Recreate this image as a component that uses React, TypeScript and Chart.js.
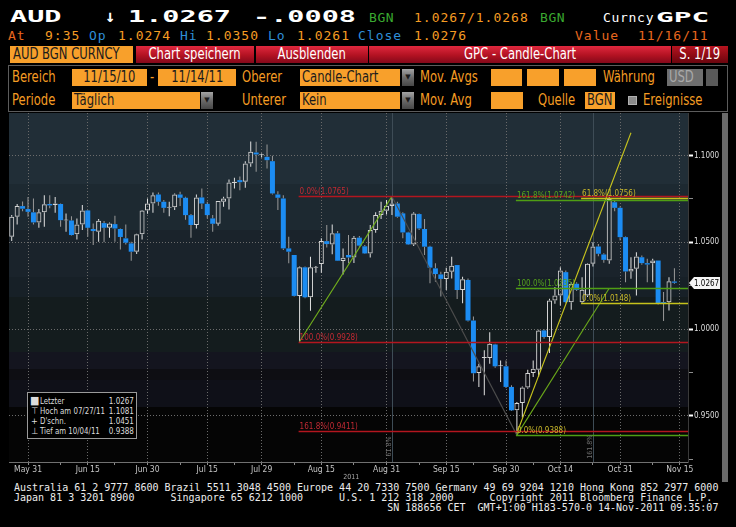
import React, { useEffect, useRef } from 'react';
import { Chart, registerables } from 'chart.js';

Chart.register(...registerables);

const MONO = "'DejaVu Sans Mono', monospace";
const NARROW = "'Liberation Sans Narrow', 'DejaVu Sans Condensed', 'Arial Narrow', 'Liberation Sans', sans-serif";

// ---------------- data ----------------
const START_DATE = '2011-05-26';
const CATEGORY_COUNT = 125; // trading days shown on the axis (last two are empty)

const opens = [
  1.0532, 1.0648, 1.0709, 1.0692, 1.0673, 1.0615, 1.0673, 1.0721, 1.0715, 1.0721,
  1.0626, 1.0626, 1.0546, 1.0603, 1.0684, 1.0577, 1.0561, 1.0611, 1.0584, 1.0605,
  1.0577, 1.0523, 1.0494, 1.0446, 1.0546, 1.0684, 1.0724, 1.0776, 1.0734, 1.0700,
  1.0702, 1.0776, 1.0757, 1.0657, 1.0600, 1.0759, 1.0722, 1.0638, 1.0607, 1.0734,
  1.0753, 1.0842, 1.0859, 1.0849, 1.0955, 1.1018, 1.1003, 1.0993, 1.0968, 1.0776,
  1.0753, 1.0465, 1.0427, 1.0191, 1.0356, 1.0183, 1.0354, 1.0375, 1.0507, 1.0488,
  1.0552, 1.0392, 1.0427, 1.0413, 1.0527, 1.0477, 1.0436, 1.0571, 1.0657, 1.0682,
  1.0709, 1.0724, 1.0667, 1.0557, 1.0488, 1.0663, 1.0577, 1.0475, 1.0350, 1.0315,
  1.0289, 1.0331, 1.0369, 1.0225, 1.0283, 1.0049, 0.9746, 0.9833, 0.9833, 0.9911,
  0.9785, 0.9785, 0.9666, 0.9531, 0.9573, 0.9662, 0.9746, 0.9765, 0.9992, 0.9954,
  1.0165, 1.0194, 1.0328, 1.0155, 1.0261, 1.0155, 1.0194, 1.0376, 1.0476, 1.0430,
  1.0395, 1.0731, 1.0699, 1.0530, 1.0332, 1.0347, 1.0414, 1.0380, 1.0380, 1.0395,
  1.0155, 1.0155, 1.0274,
];
const highs = [
  1.0657, 1.0721, 1.0736, 1.0761, 1.0753, 1.0692, 1.0772, 1.0772, 1.0761, 1.0724,
  1.0667, 1.0651, 1.0638, 1.0715, 1.0686, 1.0609, 1.0634, 1.0623, 1.0615, 1.0653,
  1.0580, 1.0603, 1.0504, 1.0550, 1.0686, 1.0753, 1.0788, 1.0788, 1.0744, 1.0734,
  1.0782, 1.0792, 1.0763, 1.0663, 1.0776, 1.0811, 1.0734, 1.0657, 1.0738, 1.0763,
  1.0863, 1.0872, 1.0880, 1.0968, 1.1081, 1.1080, 1.1012, 1.1064, 1.0999, 1.0795,
  1.0772, 1.0532, 1.0427, 1.0360, 1.0360, 1.0417, 1.0363, 1.0523, 1.0600, 1.0603,
  1.0565, 1.0465, 1.0542, 1.0536, 1.0536, 1.0484, 1.0600, 1.0673, 1.0734, 1.0744,
  1.0765, 1.0734, 1.0673, 1.0561, 1.0673, 1.0667, 1.0634, 1.0481, 1.0379, 1.0331,
  1.0354, 1.0417, 1.0369, 1.0302, 1.0292, 1.0072, 0.9800, 0.9877, 0.9982, 0.9915,
  0.9819, 0.9819, 0.9675, 0.9579, 0.9669, 0.9765, 0.9819, 0.9996, 0.9998, 1.0174,
  1.0242, 1.0357, 1.0338, 1.0270, 1.0270, 1.0299, 1.0380, 1.0501, 1.0491, 1.0437,
  1.0770, 1.0741, 1.0706, 1.0533, 1.0414, 1.0443, 1.0424, 1.0405, 1.0405, 1.0395,
  1.0213, 1.0299, 1.0350,
];
const lows = [
  1.0507, 1.0603, 1.0680, 1.0648, 1.0603, 1.0584, 1.0590, 1.0696, 1.0671, 1.0590,
  1.0561, 1.0540, 1.0517, 1.0571, 1.0532, 1.0484, 1.0504, 1.0500, 1.0527, 1.0504,
  1.0459, 1.0488, 1.0394, 1.0433, 1.0517, 1.0665, 1.0671, 1.0711, 1.0671, 1.0650,
  1.0686, 1.0709, 1.0630, 1.0527, 1.0580, 1.0692, 1.0638, 1.0561, 1.0596, 1.0705,
  1.0690, 1.0811, 1.0801, 1.0815, 1.0936, 1.0907, 1.0990, 1.0926, 1.0776, 1.0686,
  1.0456, 1.0379, 1.0187, 0.9928, 1.0177, 1.0106, 1.0325, 1.0325, 1.0470, 1.0431,
  1.0392, 1.0315, 1.0379, 1.0381, 1.0475, 1.0433, 1.0413, 1.0555, 1.0634, 1.0661,
  1.0657, 1.0642, 1.0523, 1.0484, 1.0479, 1.0571, 1.0427, 1.0264, 1.0273, 1.0187,
  1.0225, 1.0292, 1.0173, 1.0148, 1.0043, 0.9697, 0.9666, 0.9618, 0.9800, 0.9777,
  0.9694, 0.9660, 0.9527, 0.9388, 0.9489, 0.9656, 0.9723, 0.9723, 0.9944, 0.9861,
  1.0146, 1.0136, 1.0149, 1.0111, 1.0220, 1.0146, 1.0184, 1.0361, 1.0420, 1.0382,
  1.0376, 1.0680, 1.0510, 1.0270, 1.0290, 1.0194, 1.0370, 1.0270, 1.0270, 1.0142,
  1.0046, 1.0107, 1.0261,
];
const closes = [
  1.0648, 1.0709, 1.0694, 1.0676, 1.0615, 1.0673, 1.0719, 1.0713, 1.0724, 1.0628,
  1.0628, 1.0542, 1.0603, 1.0684, 1.0584, 1.0565, 1.0625, 1.0584, 1.0609, 1.0580,
  1.0531, 1.0498, 1.0446, 1.0546, 1.0684, 1.0724, 1.0772, 1.0734, 1.0699, 1.0702,
  1.0776, 1.0757, 1.0657, 1.0600, 1.0759, 1.0724, 1.0657, 1.0607, 1.0738, 1.0753,
  1.0845, 1.0849, 1.0847, 1.0955, 1.1022, 1.1007, 1.1005, 1.0974, 1.0782, 1.0757,
  1.0465, 1.0446, 1.0191, 1.0356, 1.0183, 1.0356, 1.0357, 1.0507, 1.0490, 1.0552,
  1.0394, 1.0411, 1.0413, 1.0527, 1.0481, 1.0436, 1.0571, 1.0657, 1.0682, 1.0711,
  1.0724, 1.0648, 1.0557, 1.0488, 1.0667, 1.0580, 1.0475, 1.0354, 1.0317, 1.0289,
  1.0331, 1.0365, 1.0225, 1.0287, 1.0049, 0.9745, 0.9785, 0.9835, 0.9915, 0.9785,
  0.9787, 0.9666, 0.9531, 0.9573, 0.9662, 0.9746, 0.9771, 0.9992, 0.9954, 1.0165,
  1.0194, 1.0338, 1.0155, 1.0261, 1.0226, 1.0226, 1.0376, 1.0476, 1.0434, 1.0399,
  1.0750, 1.0699, 1.0530, 1.0332, 1.0347, 1.0418, 1.0380, 1.0372, 1.0395, 1.0146,
  1.0146, 1.0276, 1.0267,
];

const tickDates = ['2011-05-31', '2011-06-15', '2011-06-30', '2011-07-15', '2011-07-29', '2011-08-15',
  '2011-08-31', '2011-09-15', '2011-09-30', '2011-10-14', '2011-10-31', '2011-11-15'];
const tickTexts = ['May 31', 'Jun 15', 'Jun 30', 'Jul 15', 'Jul 29', 'Aug 15',
  'Aug 31', 'Sep 15', 'Sep 30', 'Oct 14', 'Oct 31', 'Nov 15'];
const minorTickDates = ['2011-06-08', '2011-06-22', '2011-07-08', '2011-07-22', '2011-08-08', '2011-08-23',
  '2011-09-08', '2011-09-22', '2011-10-07', '2011-10-24', '2011-11-08'];

const Y_MIN = 0.9233;
const Y_MAX = 1.1246;
const yTickValues = [0.925, 0.95, 0.975, 1.0, 1.025, 1.05, 1.075, 1.1];
const yMajorValues = [0.95, 1.0, 1.05, 1.1];

const RED = '#b3161f', RED_T = '#c22a33', GREEN = '#4f9e14', GREEN_T = '#55a21c', YEL = '#c6c21c', YEL_T = '#c9b82a';

const fibLevels = [
  { from: '2011-08-09', price: 1.0765, label: '0.0%(1.0765)', color: RED, text: RED_T },
  { from: '2011-08-09', price: 0.9928, label: '100.0%(0.9928)', color: RED, text: RED_T },
  { from: '2011-08-09', price: 0.9411, label: '161.8%(0.9411)', color: RED, text: RED_T },
  { from: '2011-10-04', price: 1.0742, label: '161.8%(1.0742)', color: GREEN, text: GREEN_T },
  { from: '2011-10-04', price: 1.0235, label: '100.0%(1.0235)', color: GREEN, text: GREEN_T },
  { from: '2011-10-04', price: 0.9388, label: '0.0%(0.9388)', color: GREEN, text: YEL_T },
  { from: '2011-10-20', price: 1.0756, label: '61.8%(1.0756)', color: YEL, text: YEL_T },
  { from: '2011-10-20', price: 1.0148, label: '0.0%(1.0148)', color: YEL, text: YEL_T },
];

const trendLines = [
  { d1: '2011-08-09', p1: 0.9928, d2: '2011-09-01', p2: 1.0765, color: '#72b01c' },
  { d1: '2011-09-01', p1: 1.0765, d2: '2011-10-04', p2: 0.9388, color: '#4c4c4c' },
  { d1: '2011-10-04', p1: 0.9388, d2: '2011-10-27', p2: 1.0235, color: '#6aa81a' },
  { d1: '2011-10-04', p1: 0.9400, d2: '2011-11-02', p2: 1.1132, color: '#c8c41e' },
];

const verticalLines = ['2011-09-01', '2011-10-24'];
const rotatedLabels = [
  { date: '2011-08-31', text: '61.8%', price: 0.9380 },
  { date: '2011-10-21', text: '161.8%', price: 0.9390 },
];

const legendRows = [
  { icon: '■', label: 'Letzter', value: '1.0267' },
  { icon: '⊤', label: 'Hoch am 07/27/11', value: '1.1081' },
  { icon: '+', label: "D'schn.", value: '1.0451' },
  { icon: '⊥', label: 'Tief am 10/04/11', value: '0.9388' },
];

// background bands (fraction of the plot height, colour)
const BANDS: [number, string][] = [
  [0, '#212e37'], [0.2034, '#1d2931'], [0.3352, '#1a232b'], [0.4699, '#172027'],
  [0.5272, '#141c1e'], [0.6848, '#14151f'], [0.7335, '#0e0e13'], [0.765, '#0f1018'], [0.8424, '#050505'],
];

function weekdays(start: string, n: number): string[] {
  const out: string[] = [];
  const d = new Date(start + 'T12:00:00Z');
  while (out.length < n) {
    const wd = d.getUTCDay();
    if (wd !== 0 && wd !== 6) out.push(d.toISOString().slice(0, 10));
    d.setUTCDate(d.getUTCDate() + 1);
  }
  return out;
}

const BLUE = '#1c8cf2';

function CandleChart() {
  const ref = useRef<HTMLCanvasElement>(null);
  useEffect(() => {
    const canvas = ref.current!;
    const labels = weekdays(START_DATE, CATEGORY_COUNT);
    const idx = (d: string) => labels.indexOf(d);
    const up = closes.map((c, i) => c >= opens[i]);
    const tickIdx = new Map<number, string>(tickDates.map((d, i) => [idx(d), tickTexts[i]] as [number, string]));
    const minorIdx = new Set(minorTickDates.map(idx));
    const isMajor = (v: any) => typeof v === 'number' && yMajorValues.some((m) => Math.abs(m - v) < 1e-6);

    const overlay = {
      id: 'gpcOverlay',
      beforeDraw(chart: any) {
        const { ctx, chartArea: a } = chart;
        const h = a.bottom - a.top;
        ctx.save();
        for (let i = 0; i < BANDS.length; i++) {
          const y0 = Math.round(a.top + BANDS[i][0] * h);
          const y1 = i + 1 < BANDS.length ? Math.round(a.top + BANDS[i + 1][0] * h) : a.bottom;
          ctx.fillStyle = BANDS[i][1];
          ctx.fillRect(a.left, y0, a.right - a.left, y1 - y0);
        }
        ctx.restore();
      },
      beforeDatasetsDraw(chart: any) {
        const { ctx, chartArea: a, scales } = chart;
        ctx.save();
        ctx.strokeStyle = '#3e4c56';
        ctx.lineWidth = 1;
        verticalLines.forEach((d) => {
          const x = Math.round(scales.x.getPixelForValue(idx(d))) + 0.5;
          ctx.beginPath();
          ctx.moveTo(x, a.top);
          ctx.lineTo(x, a.bottom);
          ctx.stroke();
        });
        ctx.restore();
      },
      afterDatasetsDraw(chart: any) {
        const { ctx, chartArea: a, scales } = chart;
        const X = (d: string) => scales.x.getPixelForValue(idx(d));
        const Y = (p: number) => scales.y.getPixelForValue(p);
        ctx.save();
        ctx.beginPath();
        ctx.rect(a.left, a.top, a.right - a.left, a.bottom - a.top);
        ctx.clip();
        trendLines.forEach((t) => {
          ctx.strokeStyle = t.color;
          ctx.lineWidth = 1.1;
          ctx.beginPath();
          ctx.moveTo(X(t.d1), Y(t.p1));
          ctx.lineTo(X(t.d2), Y(t.p2));
          ctx.stroke();
        });
        fibLevels.forEach((f) => {
          const y = Math.round(Y(f.price)) + 0.5;
          ctx.strokeStyle = f.color;
          ctx.lineWidth = 1.6;
          ctx.beginPath();
          ctx.moveTo(X(f.from) - 1, y);
          ctx.lineTo(a.right, y);
          ctx.stroke();
        });
        ctx.font = `8px ${NARROW}`;
        ctx.textBaseline = 'bottom';
        ctx.textAlign = 'left';
        fibLevels.forEach((f) => {
          ctx.fillStyle = f.text;
          ctx.fillText(f.label, X(f.from), Math.round(Y(f.price)) - 0.5);
        });
        ctx.fillStyle = '#6e6e6e';
        ctx.font = `7px ${NARROW}`;
        rotatedLabels.forEach((r) => {
          ctx.save();
          ctx.translate(X(r.date) + 3, Y(r.price));
          ctx.rotate(-Math.PI / 2);
          ctx.textAlign = 'right';
          ctx.textBaseline = 'middle';
          ctx.fillText(r.text, 0, 0);
          ctx.restore();
        });
        ctx.restore();
      },
      afterDraw(chart: any) {
        const { ctx, chartArea: a, scales } = chart;
        const last = closes[closes.length - 1];
        const y = Math.round(scales.y.getPixelForValue(last));
        ctx.save();
        ctx.fillStyle = '#f4f4f4';
        ctx.beginPath();
        ctx.moveTo(a.right + 1, y);
        ctx.lineTo(a.right + 6, y - 6);
        ctx.lineTo(a.right + 32, y - 6);
        ctx.lineTo(a.right + 32, y + 6);
        ctx.lineTo(a.right + 6, y + 6);
        ctx.closePath();
        ctx.fill();
        ctx.fillStyle = '#000';
        ctx.font = `8px ${NARROW}`;
        ctx.textBaseline = 'middle';
        ctx.textAlign = 'left';
        ctx.fillText(last.toFixed(4), a.right + 6, y + 0.5);
        ctx.fillStyle = '#a8a8a8';
        ctx.font = `7px ${NARROW}`;
        ctx.textAlign = 'center';
        ctx.fillText('2011', scales.x.getPixelForValue(62.5), a.bottom + 15);
        ctx.restore();
      },
    };

    const chart = new Chart(canvas, {
      type: 'bar',
      data: {
        labels,
        datasets: [
          {
            label: 'body',
            data: opens.map((o, i) => [Math.min(o, closes[i]), Math.max(o, closes[i])]),
            backgroundColor: up.map((u) => (u ? 'rgba(0,0,0,0)' : BLUE)),
            borderColor: up.map((u) => (u ? '#d4d4d4' : BLUE)),
            borderWidth: up.map((u) => (u ? 1 : 0)),
            borderSkipped: false,
            barThickness: 5,
            minBarLength: 1,
            inflateAmount: 0,
            grouped: false,
            order: 0,
          } as any,
          {
            label: 'upper wick',
            data: opens.map((o, i) => [Math.max(o, closes[i]), highs[i]]),
            backgroundColor: up.map((u) => (u ? '#e2e2e2' : '#9a9a9a')),
            borderWidth: 0,
            barThickness: 1,
            inflateAmount: 0,
            grouped: false,
            order: 1,
          } as any,
          {
            label: 'lower wick',
            data: opens.map((o, i) => [lows[i], Math.min(o, closes[i])]),
            backgroundColor: up.map((u) => (u ? '#e2e2e2' : '#9a9a9a')),
            borderWidth: 0,
            barThickness: 1,
            inflateAmount: 0,
            grouped: false,
            order: 2,
          } as any,
        ],
      },
      options: {
        responsive: false,
        maintainAspectRatio: false,
        animation: false,
        devicePixelRatio: 1,
        layout: { padding: { left: 9, right: 0, top: 0, bottom: 0 } },
        plugins: { legend: { display: false }, tooltip: { enabled: false } },
        scales: {
          x: {
            type: 'category',
            offset: true,
            grid: {
              offset: false,
              color: (c: any) => (tickIdx.has(c.index) ? '#6a6a6a' : 'rgba(0,0,0,0)'),
              lineWidth: 1,
              drawTicks: true,
              tickLength: 3,
              tickColor: (c: any) => (tickIdx.has(c.index) || minorIdx.has(c.index) ? '#8a8a8a' : 'rgba(0,0,0,0)'),
            },
            border: { color: '#707070', width: 1, dash: [1, 2] },
            ticks: {
              autoSkip: false,
              maxRotation: 0,
              minRotation: 0,
              padding: 0,
              color: '#c4c4c4',
              font: { family: NARROW, size: 8.5 },
              callback: (_v: any, i: number) => tickIdx.get(i) ?? '',
            },
            afterFit: (s: any) => {
              s.height = 20;
              s.paddingLeft = 0;
              s.paddingRight = 0;
            },
          },
          y: {
            position: 'right',
            min: Y_MIN,
            max: Y_MAX,
            afterBuildTicks: (s: any) => {
              s.ticks = yTickValues.map((v) => ({ value: v }));
            },
            grid: {
              color: (c: any) => (isMajor(c.tick && c.tick.value) ? '#6c6c6c' : 'rgba(0,0,0,0)'),
              tickLength: 5,
              tickColor: (c: any) => (isMajor(c.tick && c.tick.value) ? '#ffffff' : '#8c8c8c'),
              tickWidth: (c: any) => (isMajor(c.tick && c.tick.value) ? 2 : 1),
            },
            border: { color: '#3a3a3a', width: 1, dash: [1, 2] },
            ticks: {
              padding: 1,
              color: '#dedede',
              font: { family: NARROW, size: 8 },
              callback: (v: any) => (isMajor(v) ? Number(v).toFixed(4) : ''),
            },
            afterFit: (s: any) => {
              s.width = 34;
              s.paddingTop = 0;
              s.paddingBottom = 0;
            },
          },
        },
      } as any,
      plugins: [overlay],
    });
    return () => chart.destroy();
  }, []);
  return (
    <canvas
      ref={ref}
      width={722}
      height={369}
      style={{ position: 'absolute', left: 0, top: 113, width: 722, height: 369 }}
    />
  );
}

// ---------------- header helpers ----------------
type TProps = { x: number; y: number; c?: string; s?: number; f?: string; b?: boolean; sx?: number; ls?: number; children: React.ReactNode };
const T = ({ x, y, c = '#fff', s = 13, f = MONO, b = false, sx = 1, ls = 0, children }: TProps) => (
  <div
    style={{
      position: 'absolute', left: x, top: y, color: c, fontSize: s, fontFamily: f,
      fontWeight: b ? 'bold' : 'normal', lineHeight: `${s}px`, whiteSpace: 'pre',
      transform: sx !== 1 ? `scaleX(${sx})` : undefined, transformOrigin: 'left top', letterSpacing: ls,
    }}
  >
    {children}
  </div>
);

const OR = '#f59c23';
const ORBG = '#f8a02b';
const GRN = '#3aa830';
const BLU = '#2f8fd8';
const ROR = '#e8671e';
const SQ = 0.86; // horizontal squeeze for the condensed UI font

const Sq = ({ children, origin = 'left', k = SQ }: any) => (
  <span style={{ display: 'inline-block', transform: `scaleX(${k})`, transformOrigin: origin }}>{children}</span>
);

const Box = ({ x, y, w, h = 17, bg = ORBG, c = '#1b1b1b', align = 'left', text = '', pad = 3 }: any) => (
  <div
    style={{
      position: 'absolute', left: x, top: y, width: w, height: h, background: bg, color: c,
      fontFamily: NARROW, fontSize: 15, lineHeight: `${h}px`, textAlign: align, paddingLeft: align === 'left' ? pad : 0,
      boxSizing: 'border-box', whiteSpace: 'pre', overflow: 'hidden',
    }}
  >
    {text ? <Sq origin={align === 'center' ? 'center' : 'left'}>{text}</Sq> : null}
  </div>
);

const Drop = ({ x, y }: { x: number; y: number }) => (
  <div
    style={{
      position: 'absolute', left: x, top: y, width: 12, height: 17,
      background: 'linear-gradient(#a4a4a4, #6a6a6a 50%, #474747)', color: '#1a1a1a',
      fontSize: 7, lineHeight: '17px', textAlign: 'center', fontFamily: 'DejaVu Sans',
    }}
  >
    ▼
  </div>
);

const RedBtn = ({ x, w, text, dark = false }: any) => (
  <div
    style={{
      position: 'absolute', left: x, top: 46, width: w, height: 17,
      background: dark ? 'linear-gradient(#b8141f, #8a0a14 60%, #6a050e)' : 'linear-gradient(#e0283e, #b21222 55%, #84081a)',
      color: '#fff', fontFamily: NARROW, fontSize: 15, lineHeight: '17px', textAlign: 'center', whiteSpace: 'pre',
    }}
  >
    <Sq origin="center">{text}</Sq>
  </div>
);

const Lbl = ({ x, y, text }: any) => (
  <div style={{ position: 'absolute', left: x, top: y, color: OR, fontFamily: NARROW, fontSize: 15, lineHeight: '17px', whiteSpace: 'pre' }}>
    <Sq>{text}</Sq>
  </div>
);

export default function App() {
  return (
    <div style={{ position: 'absolute', left: 0, top: 0, width: 736, height: 527, background: '#000', overflow: 'hidden' }}>
      {/* row 1 */}
      <T x={10} y={10} s={15} b sx={1.9}>AUD</T>
      <T x={105} y={8} s={17} b>↓</T>
      <T x={128} y={10} s={15} b sx={1.9}>1.0267</T>
      <T x={253} y={10} s={15} b sx={1.9}>-.0008</T>
      <T x={369} y={11} c={GRN} ls={0.6}>BGN</T>
      <T x={414} y={11} c={OR} ls={1}>1.0267/1.0268</T>
      <T x={540} y={11} c={GRN} ls={0.6}>BGN</T>
      <T x={603} y={11} ls={0.7}>Curncy</T>
      <T x={656} y={10} s={14} b sx={2.1}>GPC</T>
      {/* row 2 */}
      <T x={8} y={29} c={ROR} ls={1}>At</T>
      <T x={45} y={29} c={OR} ls={1}>9:35</T>
      <T x={89} y={29} c={BLU} ls={1}>Op</T>
      <T x={118} y={29} c={OR} ls={1}>1.0274</T>
      <T x={180} y={29} c={BLU} ls={1}>Hi</T>
      <T x={206} y={29} c={OR} ls={1}>1.0350</T>
      <T x={268} y={29} c={BLU} ls={1}>Lo</T>
      <T x={297} y={29} c={OR} ls={1}>1.0261</T>
      <T x={358} y={29} c={BLU} ls={1}>Close</T>
      <T x={414} y={29} c={OR} ls={1}>1.0276</T>
      <T x={575} y={29} c={ROR} ls={1}>Value</T>
      <T x={638} y={29} c={ROR} ls={1}>11/16/11</T>
      {/* row 3 */}
      <Box x={10} y={46} w={123} text="AUD BGN CURNCY" />
      <RedBtn x={136} w={118} text="Chart speichern" />
      <RedBtn x={256} w={112} text="Ausblenden" />
      <RedBtn x={369} w={302} text="GPC - Candle-Chart" />
      <RedBtn x={672} w={56} text="S. 1/19" dark />
      {/* panel */}
      <div style={{ position: 'absolute', left: 8, top: 65, width: 720, height: 47, border: '1px solid #5c5c5c', boxSizing: 'border-box' }} />
      <Lbl x={12} y={69} text="Bereich" />
      <Box x={72} y={69} w={75} align="center" text="11/15/10" />
      <Lbl x={150} y={69} text="-" />
      <Box x={158} y={69} w={78} align="center" text="11/14/11" />
      <Lbl x={242} y={69} text="Oberer" />
      <Box x={300} y={69} w={100} text="Candle-Chart" pad={2} />
      <Drop x={402} y={69} />
      <Lbl x={420} y={69} text="Mov. Avgs" />
      <Box x={491} y={69} w={31} />
      <Box x={527} y={69} w={32} />
      <Box x={564} y={69} w={32} />
      <Lbl x={603} y={69} text="Währung" />
      <Box x={667} y={69} w={36} bg="#6f6f6f" c="#a9a9a9" text="USD" pad={2} />
      <div style={{ position: 'absolute', left: 706, top: 69, width: 12, height: 17, background: '#5a5a5a' }} />
      <Lbl x={12} y={92} text="Periode" />
      <Box x={72} y={92} w={128} text="Täglich" pad={2} />
      <Drop x={201} y={92} />
      <Lbl x={242} y={92} text="Unterer" />
      <Box x={300} y={92} w={100} text="Kein" pad={2} />
      <Drop x={402} y={92} />
      <Lbl x={420} y={92} text="Mov. Avg" />
      <Box x={491} y={92} w={32} />
      <Lbl x={538} y={92} text="Quelle" />
      <Box x={585} y={92} w={30} text="BGN" pad={2} />
      <div style={{ position: 'absolute', left: 628, top: 96, width: 9, height: 9, background: '#8a8a8a', border: '1px solid #b0b0b0', boxSizing: 'border-box' }} />
      <Lbl x={643} y={92} text="Ereignisse" />

      {/* chart */}
      <CandleChart />

      {/* scrollbar */}
      <div style={{ position: 'absolute', left: 722, top: 113, width: 6, height: 369, background: '#6a6a6a' }} />

      {/* legend */}
      <div
        style={{
          position: 'absolute', left: 27, top: 392, width: 110, height: 47, background: '#000',
          border: '1px solid #9a9a9a', boxSizing: 'border-box', fontFamily: NARROW, fontSize: 9.5, color: '#dcdcdc',
        }}
      >
        {legendRows.map((r, i) => (
          <div key={i} style={{ position: 'absolute', left: 2, top: 3 + i * 10, width: 104, height: 10, lineHeight: '10px', whiteSpace: 'pre' }}>
            <span style={{ position: 'absolute', left: 0, width: 9, textAlign: 'center', fontSize: i === 0 ? 11 : 9 }}>{r.icon}</span>
            <span style={{ position: 'absolute', left: 10 }}>
              <Sq k={0.82}>{r.label}</Sq>
            </span>
            <span style={{ position: 'absolute', right: 0 }}>
              <Sq origin="right" k={0.84}>{r.value}</Sq>
            </span>
          </div>
        ))}
      </div>

      {/* footer */}
      <div style={{ position: 'absolute', left: 14, top: 483, fontFamily: MONO, fontSize: 10, lineHeight: '10px', color: '#ececec', whiteSpace: 'pre' }}>
        {'Australia 61 2 9777 8600 Brazil 5511 3048 4500 Europe 44 20 7330 7500 Germany 49 69 9204 1210 Hong Kong 852 2977 6000'}
        {'\n'}
        {'Japan 81 3 3201 8900      Singapore 65 6212 1000      U.S. 1 212 318 2000      Copyright 2011 Bloomberg Finance L.P.'}
        {'\n'}
        {'                                                              SN 188656 CET  GMT+1:00 H183-570-0 14-Nov-2011 09:35:07'}
      </div>
    </div>
  );
}
